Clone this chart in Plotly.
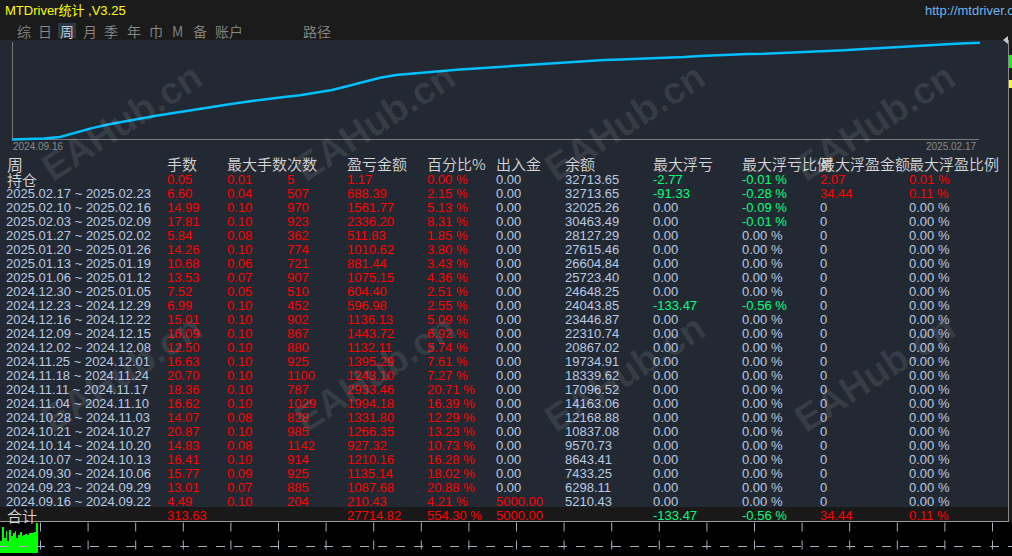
import plotly.graph_objects as go

W, H = 1012, 556

# ------------------------------------------------------------------ data
title_text = "MTDriver统计 ,V3.25"
url_text = "http://mtdriver.com"
tab_labels = ["综", "日", "周", "月", "季", "年", "巾", "M", "备", "账户", "路径"]
active_tab = "周"

curve_labels = ["2024.09.16", "2025.02.17"]
equity_curve = [0, 0.5, 1.0, 2.5, 7.1, 11.4, 15.0, 18.1, 21.0, 23.7, 26.3, 28.9, 31.4,
                33.8, 36.2, 38.4, 40.6, 42.4, 44.2, 46.9, 49.6, 53.5, 57.5, 61.7, 64.6,
                66.1, 67.7, 69.0, 70.0, 71.1, 72.2, 73.3, 74.3, 75.4, 76.6, 77.8, 78.8,
                79.6, 80.1, 80.6, 81.1, 81.5, 82.5, 83.5, 84.4, 85.2, 85.5, 85.7, 86.3,
                87.3, 87.9, 88.3, 89.3, 90.3, 91.3, 92.3, 93.2, 94.0, 95.0, 95.7, 96.4, 96.8]
curve_x = list(range(61)) + [60.5]

volume_bars = [35, 77, 45, 65, 35, 70, 50, 60, 65, 45, 55, 63, 50, 55, 57, 55, 60, 60, 60, 63, 90]

headers = ["手数", "最大手数", "次数", "盈亏金额", "百分比%", "出入金", "余额",
           "最大浮亏", "最大浮亏比例", "最大浮盈金额", "最大浮盈比例"]
first_header = "周"
open_label = "持仓"
total_label = "合计"

weeks = ["2025.02.17 ~ 2025.02.23", "2025.02.10 ~ 2025.02.16", "2025.02.03 ~ 2025.02.09",
         "2025.01.27 ~ 2025.02.02", "2025.01.20 ~ 2025.01.26", "2025.01.13 ~ 2025.01.19",
         "2025.01.06 ~ 2025.01.12", "2024.12.30 ~ 2025.01.05", "2024.12.23 ~ 2024.12.29",
         "2024.12.16 ~ 2024.12.22", "2024.12.09 ~ 2024.12.15", "2024.12.02 ~ 2024.12.08",
         "2024.11.25 ~ 2024.12.01", "2024.11.18 ~ 2024.11.24", "2024.11.11 ~ 2024.11.17",
         "2024.11.04 ~ 2024.11.10", "2024.10.28 ~ 2024.11.03", "2024.10.21 ~ 2024.10.27",
         "2024.10.14 ~ 2024.10.20", "2024.10.07 ~ 2024.10.13", "2024.09.30 ~ 2024.10.06",
         "2024.09.23 ~ 2024.09.29", "2024.09.16 ~ 2024.09.22"]

# first entry = 持仓 row, then the weeks
lots = [0.05, 6.60, 14.99, 17.81, 5.84, 14.26, 10.68, 13.53, 7.52, 6.99, 15.01, 16.09,
        12.50, 16.63, 20.70, 18.36, 16.62, 14.07, 20.87, 14.83, 16.41, 15.77, 13.01, 4.49]
max_lot = [0.01, 0.04, 0.10, 0.10, 0.08, 0.10, 0.06, 0.07, 0.05, 0.10, 0.10, 0.10,
           0.10, 0.10, 0.10, 0.10, 0.10, 0.08, 0.10, 0.08, 0.10, 0.09, 0.07, 0.10]
trades = [5, 507, 970, 923, 362, 774, 721, 907, 510, 452, 902, 867,
          880, 925, 1100, 787, 1029, 828, 985, 1142, 914, 925, 885, 204]
pnl = [1.17, 688.39, 1561.77, 2336.20, 511.83, 1010.62, 881.44, 1075.15, 604.40, 596.98,
       1136.13, 1443.72, 1132.11, 1395.29, 1243.10, 2933.46, 1994.18, 1331.80, 1266.35,
       927.32, 1210.16, 1135.14, 1087.68, 210.43]
pct = [0.00, 2.15, 5.13, 8.31, 1.85, 3.80, 3.43, 4.36, 2.51, 2.55, 5.09, 6.92,
       5.74, 7.61, 7.27, 20.71, 16.39, 12.29, 13.23, 10.73, 16.28, 18.02, 20.88, 4.21]
deposit = [0.00] * 23 + [5000.00]
balance = [32713.65, 32713.65, 32025.26, 30463.49, 28127.29, 27615.46, 26604.84, 25723.40,
           24648.25, 24043.85, 23446.87, 22310.74, 20867.02, 19734.91, 18339.62, 17096.52,
           14163.06, 12168.88, 10837.08, 9570.73, 8643.41, 7433.25, 6298.11, 5210.43]
float_loss = [-2.77, -91.33, 0, 0, 0, 0, 0, 0, 0, -133.47, 0, 0,
              0, 0, 0, 0, 0, 0, 0, 0, 0, 0, 0, 0]
float_loss_pct = [-0.01, -0.28, -0.09, -0.01, 0, 0, 0, 0, 0, -0.56, 0, 0,
                  0, 0, 0, 0, 0, 0, 0, 0, 0, 0, 0, 0]
float_profit = [2.07, 34.44] + [0] * 22
float_profit_pct = [0.01, 0.11] + [0] * 22

total_lots = 313.63
total_pnl = 27714.82
total_pct = 554.30
total_deposit = 5000.00
total_float_loss = -133.47
total_float_loss_pct = -0.56
total_float_profit = 34.44
total_float_profit_pct = 0.11

watermark = "EAHub.cn"

# ------------------------------------------------------------------ style
BG_TOP = "#1b1b1b"
BG_PANEL = "#232932"
BG_TOTAL = "#191919"
TXT = "#b9c9e3"
RED = "#ff0000"
GREEN = "#00ff7f"
HDR = "#d6d6d6"
NUM_FONT = "Liberation Sans, Arial, Noto Sans CJK SC"
CJK_FONT = "Noto Sans CJK SC DemiLight, Noto Sans CJK SC Light, Noto Sans CJK SC, Liberation Sans"


def px(x):
    return x / W


def py(y):
    return 1 - y / H


fig = go.Figure()

# equity line
fig.add_trace(go.Scatter(x=curve_x, y=equity_curve, mode="lines",
                         line=dict(color="#00bfff", width=2.5),
                         hoverinfo="skip", showlegend=False))
# volume bars (bottom strip)
fig.add_trace(go.Bar(x=list(range(len(volume_bars))), y=volume_bars, width=0.45,
                     marker=dict(color="#00ff00", line=dict(width=0)),
                     xaxis="x2", yaxis="y2", hoverinfo="skip", showlegend=False))

shapes = []


def rect(x0, y0, x1, y1, color, layer="below"):
    shapes.append(dict(type="rect", xref="paper", yref="paper",
                       x0=px(x0), x1=px(x1), y0=py(y1), y1=py(y0),
                       fillcolor=color, line=dict(width=0), layer=layer))


def line(x0, y0, x1, y1, color, width=1, dash="solid", layer="below"):
    shapes.append(dict(type="line", xref="paper", yref="paper",
                       x0=px(x0), x1=px(x1), y0=py(y0), y1=py(y1),
                       line=dict(color=color, width=width, dash=dash), layer=layer))


rect(0, 40, 1008, 522, BG_PANEL)
rect(0, 507, 1008, 521, BG_TOTAL)
rect(0, 522, 1012, 556, "#000000")
line(0, 521.5, 1008.5, 521.5, "#9a9a9a")
line(1008.5, 40, 1008.5, 522, "#8a8a8a")
rect(1009, 55, 1012, 68, "#00ff00")
rect(1009, 80, 1012, 88, "#ffff00")
shapes.append(dict(type="path", xref="paper", yref="paper",
                   path=f"M {px(1003)} {py(40)} L {px(1008)} {py(36)} L {px(1008)} {py(44)} Z",
                   fillcolor="#c8c8c8", line=dict(width=0), layer="above"))
# tab highlight
rect(58, 23, 76, 38, "#2e3744")
# chart axis lines
line(12.5, 42, 12.5, 139.5, "#7a7a7a")
line(12, 139.5, 979, 139.5, "#7a7a7a")
# bottom grid (dashed)
gx = 40.5
while gx < W:
    line(gx, 522.5, gx, 556, "#a4afbd", width=1, dash="dash", layer="above")
    gx += 47.6
line(0, 546.5, 1012, 546.5, "#a4afbd", width=1, dash="dash", layer="above")

ann = []


def text(x, y, s, color, size=13, family=NUM_FONT, anchor="left", **kw):
    d = dict(x=px(x), y=py(y), xref="paper", yref="paper", text=s, showarrow=False,
             xanchor=anchor, yanchor="middle", font=dict(color=color, size=size, family=family),
             borderpad=0)
    d.update(kw)
    ann.append(d)


# title bar
text(4, 11, title_text, "#ffff00", size=13)
text(924, 11, url_text, "#6fb3f2", size=13)
tab_x = [16, 37, 59, 82, 103, 126, 148, 171, 192, 214, 302]
for tx, lab in zip(tab_x, tab_labels):
    text(tx, 31, lab, "#c7d0de" if lab == active_tab else "#8a8a8a", size=14, family=CJK_FONT)

# curve date labels
text(12, 146.5, curve_labels[0], "#8a8a8a", size=10)
text(977, 146.5, curve_labels[1], "#8a8a8a", size=10, anchor="right")

# table
col_x = [166, 226, 286, 346, 426, 495, 564, 652, 741, 819, 908]
HY = 164
ROW0 = 179.3
STEP = 14.0
TOTAL_Y = 515

text(6, HY, first_header, HDR, size=16, family=CJK_FONT)
for cx, h in zip(col_x, headers):
    text(cx, HY, h, HDR, size=15, family=CJK_FONT)

row_labels = [open_label] + weeks


def fmt(v):
    return f"{v:.2f}"


def pcol(v):
    return RED if v > 0 else TXT


def ncol(v):
    return GREEN if v < 0 else TXT


for i, lab in enumerate(row_labels):
    y = ROW0 + STEP * i
    if i == 0:
        text(6, y, lab, HDR, size=15, family=CJK_FONT)
    else:
        text(5, y, lab, TXT)
    text(col_x[0], y, fmt(lots[i]), RED)
    text(col_x[1], y, fmt(max_lot[i]), RED)
    text(col_x[2], y, str(trades[i]), RED)
    text(col_x[3], y, fmt(pnl[i]), RED)
    text(col_x[4], y, f"{pct[i]:.2f} %", RED)
    text(col_x[5], y, fmt(deposit[i]), pcol(deposit[i]))
    text(col_x[6], y, fmt(balance[i]), TXT)
    text(col_x[7], y, fmt(float_loss[i]), ncol(float_loss[i]))
    text(col_x[8], y, f"{float_loss_pct[i]:.2f} %", ncol(float_loss_pct[i]))
    text(col_x[9], y, fmt(float_profit[i]) if float_profit[i] else "0", pcol(float_profit[i]))
    text(col_x[10], y, f"{float_profit_pct[i]:.2f} %", pcol(float_profit_pct[i]))

text(6, TOTAL_Y, total_label, HDR, size=15, family=CJK_FONT)
text(col_x[0], TOTAL_Y, fmt(total_lots), RED)
text(col_x[3], TOTAL_Y, fmt(total_pnl), RED)
text(col_x[4], TOTAL_Y, f"{total_pct:.2f} %", RED)
text(col_x[5], TOTAL_Y, fmt(total_deposit), RED)
text(col_x[7], TOTAL_Y, fmt(total_float_loss), GREEN)
text(col_x[8], TOTAL_Y, f"{total_float_loss_pct:.2f} %", GREEN)
text(col_x[9], TOTAL_Y, fmt(total_float_profit), RED)
text(col_x[10], TOTAL_Y, f"{total_float_profit_pct:.2f} %", RED)

# watermarks
for wy in (122, 373):
    for wx in (122, 375, 625, 875):
        text(wx, wy, f"<b>{watermark}</b>", "rgba(255,255,255,0.09)", size=38,
             family="Liberation Sans, Arial", anchor="center", textangle=-33)

fig.update_layout(
    width=W, height=H, margin=dict(l=0, r=0, t=0, b=0),
    paper_bgcolor=BG_TOP, plot_bgcolor="rgba(0,0,0,0)",
    xaxis=dict(domain=[px(11), px(981)], range=[-0.0625, 60.5625], visible=False, fixedrange=True),
    yaxis=dict(domain=[py(141), py(41.2)], range=[-1.5, 98.3], visible=False, fixedrange=True),
    xaxis2=dict(domain=[0, px(38)], range=[-0.6, 20.6], visible=False, anchor="y2"),
    yaxis2=dict(domain=[py(553), py(522)], range=[0, 93], visible=False, anchor="x2"),
    shapes=shapes, annotations=ann, showlegend=False, bargap=0,
)

fig.write_html("out.html", config={"displayModeBar": False},
               post_script="document.body.style.margin='0';document.body.style.overflow='hidden';")
